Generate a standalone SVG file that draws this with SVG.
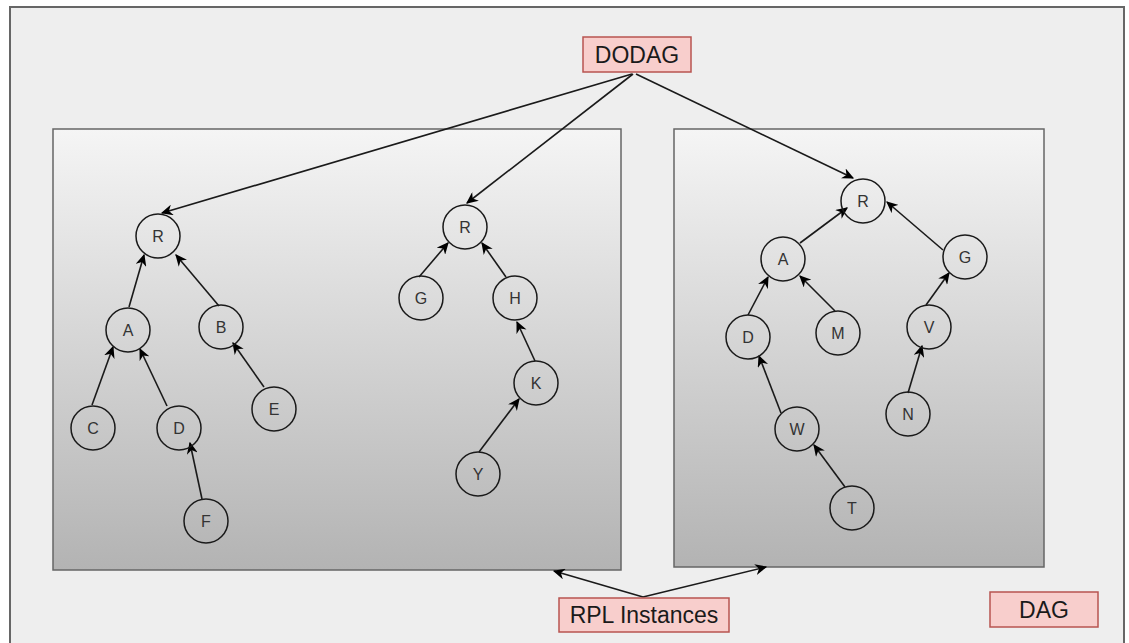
<svg xmlns="http://www.w3.org/2000/svg" width="1129" height="643" viewBox="0 0 1129 643">
<style>
.node circle{fill:none;stroke:#1a1a1a;stroke-width:1.5}
.node text{font-family:"Liberation Sans",Arial,sans-serif;font-size:16px;fill:#333;text-anchor:middle;dominant-baseline:central}
.lbl rect{fill:#f8cecc;stroke:#b85450;stroke-width:1.5}
.lbl text{font-family:"Liberation Sans",Arial,sans-serif;font-size:23px;fill:#1a1a1a;text-anchor:middle;dominant-baseline:central}
.panel{fill:url(#grad);stroke:#666;stroke-width:1.5}
#edges line{stroke:#1a1a1a;stroke-width:1.6;marker-end:url(#arr)}
</style>
<defs>
<linearGradient id="grad" x1="0" y1="0" x2="0" y2="1">
<stop offset="0" stop-color="#f5f5f5"/>
<stop offset="1" stop-color="#b3b3b3"/>
</linearGradient>
<marker id="arr" viewBox="0 0 10 10" refX="9" refY="5" markerWidth="12" markerHeight="11" markerUnits="userSpaceOnUse" orient="auto" preserveAspectRatio="none">
<path d="M0,0 L10,5 L0,10 L3,5 z" fill="#000"/>
</marker>
</defs>
<rect x="0" y="0" width="1129" height="643" fill="#ffffff"/>
<rect id="outer" x="10" y="7" width="1114" height="645" fill="#eeeeee" stroke="#666" stroke-width="2"/>
<rect id="panel-left" class="panel" x="53" y="129" width="568" height="441"/>
<rect id="panel-right" class="panel" x="674" y="129" width="370" height="438"/>

<g id="edges">
<line x1="632" y1="74" x2="162" y2="213"/>
<line x1="633" y1="74" x2="467" y2="203"/>
<line x1="636" y1="74" x2="853" y2="178"/>
<line x1="129" y1="307" x2="144" y2="255"/>
<line x1="219" y1="306" x2="176" y2="255"/>
<line x1="92" y1="405" x2="113" y2="347"/>
<line x1="167" y1="406" x2="140" y2="349"/>
<line x1="264" y1="387" x2="233" y2="343"/>
<line x1="202" y1="499" x2="190" y2="443"/>
<line x1="419" y1="277" x2="448" y2="243"/>
<line x1="506" y1="277" x2="482" y2="243"/>
<line x1="535" y1="361" x2="517" y2="322"/>
<line x1="479" y1="452" x2="519" y2="399"/>
<line x1="800" y1="243" x2="847" y2="208"/>
<line x1="943" y1="250" x2="887" y2="202"/>
<line x1="748" y1="315" x2="768" y2="277"/>
<line x1="835" y1="311" x2="800" y2="276"/>
<line x1="926" y1="305" x2="949" y2="273"/>
<line x1="908" y1="393" x2="922" y2="346"/>
<line x1="781" y1="413" x2="759" y2="356"/>
<line x1="845" y1="487" x2="814" y2="445"/>
<line x1="643" y1="597" x2="554" y2="571"/>
<line x1="643" y1="597" x2="766" y2="567"/>
</g>

<g id="dodag" class="lbl"><rect x="583" y="37" width="108" height="35"/><text x="637" y="55">DODAG</text></g>
<g id="rpl" class="lbl"><rect x="559" y="598" width="170" height="34"/><text x="644" y="615">RPL Instances</text></g>
<g id="dag" class="lbl"><rect x="990" y="592" width="108" height="35"/><text x="1044" y="609.5">DAG</text></g>

<g id="t1-R" class="node"><circle cx="158" cy="236" r="22"/><text x="158" y="236">R</text></g>
<g id="t1-A" class="node"><circle cx="128" cy="330" r="22"/><text x="128" y="330">A</text></g>
<g id="t1-B" class="node"><circle cx="221" cy="327" r="22"/><text x="221" y="327">B</text></g>
<g id="t1-C" class="node"><circle cx="93" cy="428" r="22"/><text x="93" y="428">C</text></g>
<g id="t1-D" class="node"><circle cx="179" cy="428" r="22"/><text x="179" y="428">D</text></g>
<g id="t1-E" class="node"><circle cx="274" cy="409" r="22"/><text x="274" y="409">E</text></g>
<g id="t1-F" class="node"><circle cx="206" cy="521" r="22"/><text x="206" y="521">F</text></g>

<g id="t2-R" class="node"><circle cx="465" cy="227" r="22"/><text x="465" y="227">R</text></g>
<g id="t2-G" class="node"><circle cx="421" cy="298" r="22"/><text x="421" y="298">G</text></g>
<g id="t2-H" class="node"><circle cx="515" cy="298" r="22"/><text x="515" y="298">H</text></g>
<g id="t2-K" class="node"><circle cx="536" cy="383" r="22"/><text x="536" y="383">K</text></g>
<g id="t2-Y" class="node"><circle cx="478" cy="474" r="22"/><text x="478" y="474">Y</text></g>

<g id="t3-R" class="node"><circle cx="863" cy="201" r="22"/><text x="863" y="201">R</text></g>
<g id="t3-A" class="node"><circle cx="783" cy="259" r="22"/><text x="783" y="259">A</text></g>
<g id="t3-G" class="node"><circle cx="965" cy="257" r="22"/><text x="965" y="257">G</text></g>
<g id="t3-D" class="node"><circle cx="748" cy="337" r="22"/><text x="748" y="337">D</text></g>
<g id="t3-M" class="node"><circle cx="838" cy="333" r="22"/><text x="838" y="333">M</text></g>
<g id="t3-V" class="node"><circle cx="929" cy="327" r="22"/><text x="929" y="327">V</text></g>
<g id="t3-N" class="node"><circle cx="908" cy="414" r="22"/><text x="908" y="414">N</text></g>
<g id="t3-W" class="node"><circle cx="797" cy="429" r="22"/><text x="797" y="429">W</text></g>
<g id="t3-T" class="node"><circle cx="852" cy="508" r="22"/><text x="852" y="508">T</text></g>
</svg>
